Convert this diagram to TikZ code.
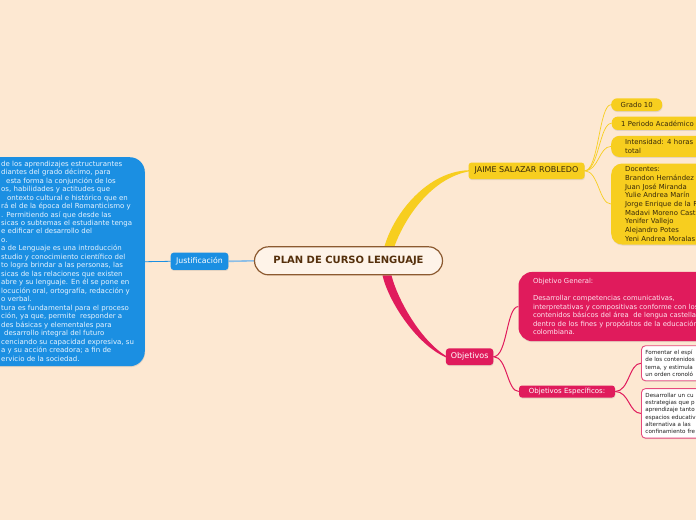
\documentclass[tikz,border=0pt]{standalone}
\usepackage{fontspec}
\setmainfont{DejaVu Sans}
\usetikzlibrary{shadows,calc,backgrounds}
\definecolor{bg}{RGB}{253,232,210}
\definecolor{mblue}{RGB}{27,143,226}
\definecolor{lblue}{RGB}{140,190,230}
\definecolor{btext}{RGB}{232,244,255}
\definecolor{myellow}{RGB}{247,206,31}
\definecolor{ytext}{RGB}{55,40,10}
\definecolor{mpink}{RGB}{224,27,92}
\definecolor{ptext}{RGB}{253,228,238}
\definecolor{mbrown}{RGB}{140,90,48}
\definecolor{dbrown}{RGB}{85,48,12}
\begin{document}
\begin{tikzpicture}[x=1pt,y=-1pt,
  softshadow/.style={drop shadow={opacity=0.2,shadow xshift=0.4pt,shadow yshift=-1pt}},
  titlebox/.style={draw=mbrown,line width=1.2pt,fill=bg!50!white,rounded corners=14pt,
    minimum width=188,minimum height=28,inner sep=0,text=dbrown,
    font=\fontsize{10}{12}\selectfont\bfseries},
  bluebtn/.style={fill=mblue,text=white,rounded corners=3pt,inner sep=0,
    font=\fontsize{7.8}{9}\selectfont,softshadow},
  bigblue/.style={fill=mblue,rounded corners=15pt,softshadow},
  ybtn/.style={fill=myellow,text=ytext,rounded corners=3pt,inner sep=0,
    font=\fontsize{8}{9.6}\selectfont,softshadow},
  ysmall/.style={fill=myellow,text=ytext,rounded corners=6pt,align=left,inner ysep=0,
    font=\fontsize{6.9}{8.65}\selectfont,softshadow},
  pinkbtn/.style={fill=mpink,text=white,rounded corners=3pt,inner sep=0,softshadow},
  pinkbig/.style={fill=mpink,text=ptext,rounded corners=14pt,align=left,inner ysep=0,
    font=\fontsize{6.85}{8.45}\selectfont,softshadow},
  wbox/.style={fill=white,draw=mpink!80,line width=0.9pt,rounded corners=4pt,text=black!88,
    font=\fontsize{5.6}{7.3}\selectfont,align=left,text width=100,inner xsep=4,inner ysep=0,
    anchor=north west,softshadow},
  yline/.style={myellow,line width=0.7pt},
  pline/.style={mpink,line width=1pt}]
\useasboundingbox (0,0) rectangle (696,520);

% central
\node[titlebox] (title) at (348.5,260.8) {PLAN DE CURSO LENGUAJE};

% left branch
\node[bluebtn,minimum width=57.6,minimum height=17.3] (just) at (199.5,261.3) {Justificación};
\node[bigblue,anchor=north east,minimum width=200,minimum height=209] (jbox) at (145,157) {};
\node[anchor=north west,inner sep=0,align=left,text=btext,
  font=\fontsize{7}{8.48}\selectfont] (jtext) at (1,160.6) {%
de los aprendizajes estructurantes\\
diantes del grado décimo, para\\
\hspace{5pt}esta forma la conjunción de los\\
os, habilidades y actitudes que\\
\hspace{6pt}ontexto cultural e histórico que en\\
rá el de la época del Romanticismo y\\
. Permitiendo así que desde las\\
sicas o subtemas el estudiante tenga\\
e edificar el desarrollo del\\
o.\\
a de Lenguaje es una introducción\\
studio y conocimiento científico del\\
to logra brindar a las personas, las\\
sicas de las relaciones que existen\\
abre y su lenguaje. En él se pone en\\
locución oral, ortografía, redacción y\\
o verbal.\\
tura es fundamental para el proceso\\
ción, ya que, permite\ \ responder a\\
des básicas y elementales para\\
\hspace{3pt}desarrollo integral del futuro\\
cenciando su capacidad expresiva, su\\
a y su acción creadora; a fin de\\
ervicio de la sociedad.};

% yellow branch
\node[ybtn,minimum width=116,minimum height=16.5] (jaime) at (526.5,170.8) {JAIME SALAZAR ROBLEDO};
\node[ysmall,anchor=west,inner xsep=9.5,minimum height=12.7] (g10) at (611,104.7) {Grado 10};
\node[ysmall,anchor=west,inner xsep=9.5,text width=90,minimum height=13.3] (per) at (611.5,123.3) {1 Periodo Académico};
\node[ysmall,anchor=north west,inner xsep=14,text width=100,minimum height=21,rounded corners=8pt,
  font=\fontsize{6.9}{9.4}\selectfont] (int) at (611,135.7) {Intensidad: 4 horas\\total};
\node[ysmall,anchor=north west,inner xsep=14,text width=100,minimum height=81,rounded corners=11pt] (doc) at (611,163.3) {Docentes:\\Brandon Hernández\\Juan José Miranda\\Yulie Andrea Marín\\Jorge Enrique de la R\\Madavi Moreno Cast\\Yenifer Vallejo\\Alejandro Potes\\Yeni Andrea Moralas};

% pink branch
\node[pinkbtn,minimum width=47.3,minimum height=16.7,font=\fontsize{8}{9.6}\selectfont] (obj) at (469.6,356.7) {Objetivos};
\node[pinkbig,anchor=north west,text width=220,inner xsep=14.5,minimum height=69.3] (objgen) at (518.3,271.7) {Objetivo General:\\[8.45pt]Desarrollar competencias comunicativas,\\interpretativas y compositivas conforme con los\\contenidos básicos del área\ \ de lengua castellana\\dentro de los fines y propósitos de la educación\\colombiana.};
\node[pinkbtn,minimum width=96,minimum height=12,font=\fontsize{7}{8.4}\selectfont] (objesp) at (567,391.5) {Objetivos Específicos:};
\node[wbox,minimum height=35] (ob1) at (641,345.3) {Fomentar el espí\\de los contenidos\\tema, y estimula\\un orden cronoló};
\node[wbox,minimum height=49.5] (ob2) at (641,388.2) {Desarrollar un cu\\estrategias que p\\aprendizaje tanto\\espacios educativ\\alternativa a las\\confinamiento fre};

\begin{scope}[on background layer]
\fill[bg] (0,0) rectangle (696,520);
% blue connectors
\draw[mblue,line width=0.8pt] (jbox.east) -- (just.west);
\draw[lblue,line width=1.6pt] (just.east) -- (title.west);
% yellow thick branch
\fill[myellow] ($(title.north)+(36,0)$) .. controls +(10,-34) and +(-41,1.3) .. ($(jaime.west)+(0.5,-0.6)$)
  -- ($(jaime.west)+(0.5,0.6)$) .. controls +(-37,7) and +(11,-30) .. ($(title.north)+(46,0)$) -- cycle;
% yellow thin connectors
\draw[yline] (jaime.east) .. controls +(14,0) and +(-12,0) .. (g10.west);
\draw[yline] (jaime.east) .. controls +(14,0) and +(-12,0) .. (per.west);
\draw[yline] (jaime.east) .. controls +(14,0) and +(-12,0) .. (int.west);
\draw[yline] (jaime.east) .. controls +(14,0) and +(-12,0) .. (doc.west);
% pink thick branch
\fill[mpink] ($(title.south)+(34,0)$) .. controls +(6,26) and +(-30,-13) .. ($(obj.west)+(0.5,0.8)$)
  -- ($(obj.west)+(0.5,-0.6)$) .. controls +(-26,-16) and +(6,24) .. ($(title.south)+(43,0)$) -- cycle;
% pink thin connectors
\draw[pline] (obj.east) .. controls +(14,0) and +(-12,0) .. (objgen.west);
\draw[pline] (obj.east) .. controls +(14,0) and +(-12,0) .. (objesp.west);
\draw[pline] (objesp.east) .. controls +(14,0) and +(-12,0) .. (ob1.west);
\draw[pline] (objesp.east) .. controls +(14,0) and +(-12,0) .. (ob2.west);
\end{scope}
\end{tikzpicture}
\end{document}
